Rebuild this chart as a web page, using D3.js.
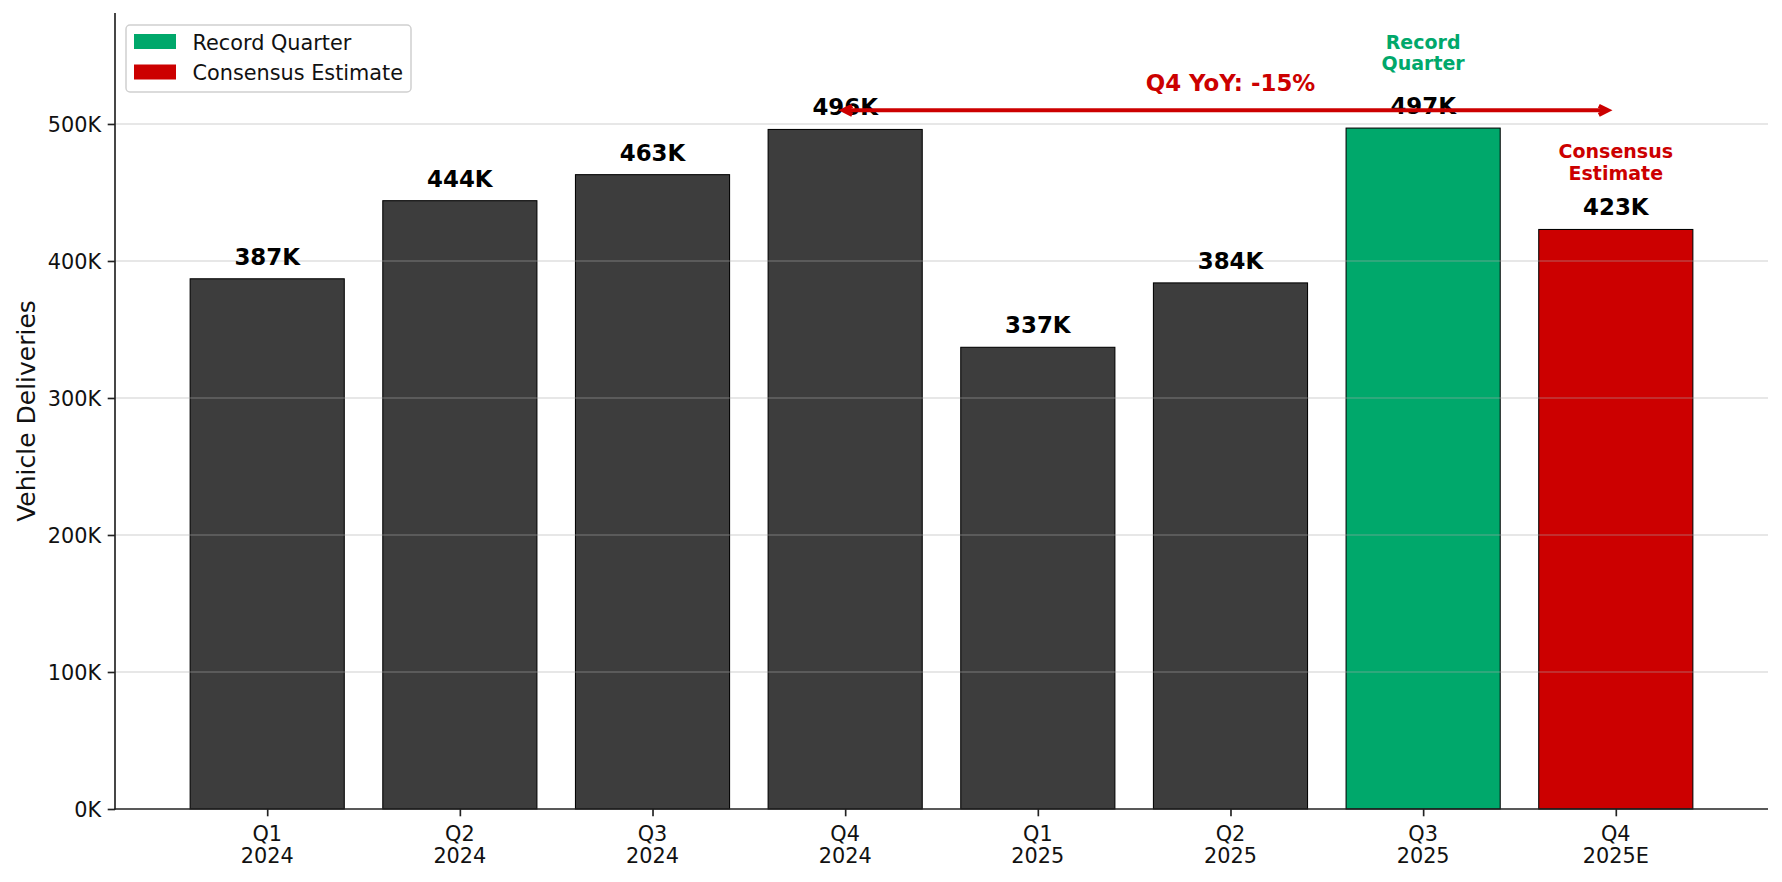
<!DOCTYPE html>
<html>
<head>
<meta charset="utf-8">
<script src="https://cdn.jsdelivr.net/npm/d3@7"></script>
<style>
  html, body { margin: 0; padding: 0; background: #fff; }
  svg { display: block; font-family: "DejaVu Sans", sans-serif; }
</style>
</head>
<body>
<svg id="chart" width="1782" height="882"></svg>
<script>
// ---- Data ----
const quarters = ["Q1", "Q2", "Q3", "Q4", "Q1", "Q2", "Q3", "Q4"];
const years = ["2024", "2024", "2024", "2024", "2025", "2025", "2025", "2025E"];
const deliveries = [387000, 444000, 463000, 496000, 337000, 384000, 497000, 423000];
const barLabels = ["387K", "444K", "463K", "496K", "337K", "384K", "497K", "423K"];
const barKinds = ["actual", "actual", "actual", "actual", "actual", "actual", "record", "estimate"];
const yTicks = [0, 100000, 200000, 300000, 400000, 500000];
const yTickLabels = ["0K", "100K", "200K", "300K", "400K", "500K"];
const legendItems = ["Record Quarter", "Consensus Estimate"];
const yoyArrow = { from: 3, to: 7, value: 510000 };
const yoyText = "Q4 YoY: -15%";

// ---- Layout ----
const W = 1782, H = 882;
const margin = { left: 115, right: 14, top: 13, bottom: 73 };
const colors = { actual: "#3d3d3d", record: "#00a86b", estimate: "#cc0000" };

const svg = d3.select("#chart");

const x = d3.scaleLinear().domain([-0.79, 7.79]).range([margin.left, W - margin.right]);
const y = d3.scaleLinear().domain([0, 581000]).range([H - margin.bottom, margin.top]);
const barW = x(0.8) - x(0);

// Bars
svg.append("g").selectAll("rect")
  .data(deliveries)
  .join("rect")
  .attr("x", (d, i) => x(i) - barW / 2)
  .attr("y", d => y(d))
  .attr("width", barW)
  .attr("height", d => y(0) - y(d))
  .attr("fill", (d, i) => colors[barKinds[i]])
  .attr("stroke", "#000")
  .attr("stroke-width", 1.05);

// Grid lines (drawn over bars, semi-transparent)
svg.append("g").selectAll("line")
  .data(yTicks.slice(1))
  .join("line")
  .attr("x1", margin.left)
  .attr("x2", W - margin.right)
  .attr("y1", d => y(d))
  .attr("y2", d => y(d))
  .attr("stroke", "#a9a9a9")
  .attr("stroke-opacity", 0.28)
  .attr("stroke-width", 2.08);

// Y axis
const yAxis = d3.axisLeft(y)
  .tickValues(yTicks)
  .tickFormat((d, i) => yTickLabels[i])
  .tickSize(7.3)
  .tickPadding(6.5);
const gy = svg.append("g").attr("transform", `translate(${margin.left},0)`).call(yAxis);
gy.select(".domain").remove();
gy.selectAll(".tick line").attr("stroke", "#222").attr("stroke-width", 1.67);
gy.selectAll(".tick text")
  .attr("font-family", "DejaVu Sans")
  .attr("font-size", 20.8)
  .attr("fill", "#111")
  .attr("dy", "0.35em");

// X axis
const xAxis = d3.axisBottom(x)
  .tickValues(d3.range(quarters.length))
  .tickFormat("")
  .tickSize(7.3);
const gx = svg.append("g").attr("transform", `translate(0,${H - margin.bottom})`).call(xAxis);
gx.select(".domain").remove();
gx.selectAll(".tick line").attr("stroke", "#222").attr("stroke-width", 1.67);
const xl = svg.append("g").selectAll("text")
  .data(quarters)
  .join("text")
  .attr("x", (d, i) => x(i))
  .attr("y", H - margin.bottom + 32)
  .attr("text-anchor", "middle")
  .attr("font-size", 20.8)
  .attr("fill", "#111");
xl.append("tspan").attr("x", (d, i) => x(i)).text(d => d);
xl.append("tspan").attr("x", (d, i) => x(i)).attr("dy", 22.4).text((d, i) => years[i]);

// Spines
svg.append("line")
  .attr("x1", margin.left).attr("x2", margin.left)
  .attr("y1", margin.top).attr("y2", H - margin.bottom + 0.8)
  .attr("stroke", "#222").attr("stroke-width", 1.67);
svg.append("line")
  .attr("x1", margin.left - 0.8).attr("x2", W - margin.right)
  .attr("y1", H - margin.bottom).attr("y2", H - margin.bottom)
  .attr("stroke", "#222").attr("stroke-width", 1.67);

// Y label
svg.append("text")
  .attr("transform", `translate(35,${(margin.top + H - margin.bottom) / 2}) rotate(-90)`)
  .attr("text-anchor", "middle")
  .attr("font-size", 25)
  .attr("fill", "#111")
  .text("Vehicle Deliveries");

// Value labels
svg.append("g").selectAll("text")
  .data(deliveries)
  .join("text")
  .attr("x", (d, i) => x(i))
  .attr("y", d => y(d) - 14)
  .attr("text-anchor", "middle")
  .attr("font-size", 22.9)
  .attr("font-weight", "bold")
  .attr("fill", "#000")
  .text((d, i) => barLabels[i]);

// YoY arrow
const ay = y(yoyArrow.value);
const ax1 = x(yoyArrow.from) - 3, ax2 = x(yoyArrow.to) - 7;
const arrowG = svg.append("g").attr("stroke", "#cc0000").attr("stroke-width", 4.2).attr("fill", "none")
  .attr("stroke-linecap", "butt");
arrowG.append("line").attr("x1", ax1 + 2).attr("x2", ax2 - 2).attr("y1", ay).attr("y2", ay);
arrowG.append("path").attr("d", `M${ax1 + 10},${ay - 4.5} L${ax1 + 1},${ay} L${ax1 + 10},${ay + 4.5}`)
  .attr("stroke-linejoin", "miter");
arrowG.append("path").attr("d", `M${ax2 - 10},${ay - 4.5} L${ax2 - 1},${ay} L${ax2 - 10},${ay + 4.5}`)
  .attr("stroke-linejoin", "miter");

svg.append("text")
  .attr("x", x((yoyArrow.from + yoyArrow.to) / 2 + 0.0))
  .attr("y", y(524000))
  .attr("text-anchor", "middle")
  .attr("font-size", 22.9)
  .attr("font-weight", "bold")
  .attr("fill", "#cc0000")
  .text(yoyText);

// Callout annotations
const recT = svg.append("text")
  .attr("x", x(6)).attr("y", 48.5)
  .attr("text-anchor", "middle")
  .attr("font-size", 19)
  .attr("font-weight", "bold")
  .attr("fill", "#00a86b");
recT.append("tspan").attr("x", x(6)).text("Record");
recT.append("tspan").attr("x", x(6)).attr("dy", 21.8).text("Quarter");

const estT = svg.append("text")
  .attr("x", x(7)).attr("y", 157.5)
  .attr("text-anchor", "middle")
  .attr("font-size", 19)
  .attr("font-weight", "bold")
  .attr("fill", "#cc0000");
estT.append("tspan").attr("x", x(7)).text("Consensus");
estT.append("tspan").attr("x", x(7)).attr("dy", 22.5).text("Estimate");

// Legend
const lg = svg.append("g");
lg.append("rect")
  .attr("x", 126).attr("y", 25)
  .attr("width", 285).attr("height", 67)
  .attr("rx", 4).attr("ry", 4)
  .attr("fill", "#fff").attr("fill-opacity", 0.8)
  .attr("stroke", "#d0d0d0").attr("stroke-width", 1.5);
const legColors = [colors.record, colors.estimate];
legendItems.forEach((name, i) => {
  lg.append("rect")
    .attr("x", 134).attr("y", 34 + i * 30.5)
    .attr("width", 42).attr("height", 15)
    .attr("fill", legColors[i]);
  lg.append("text")
    .attr("x", 192.5).attr("y", 50 + i * 30)
    .attr("font-size", 20.8)
    .attr("fill", "#111")
    .text(name);
});
</script>
</body>
</html>
